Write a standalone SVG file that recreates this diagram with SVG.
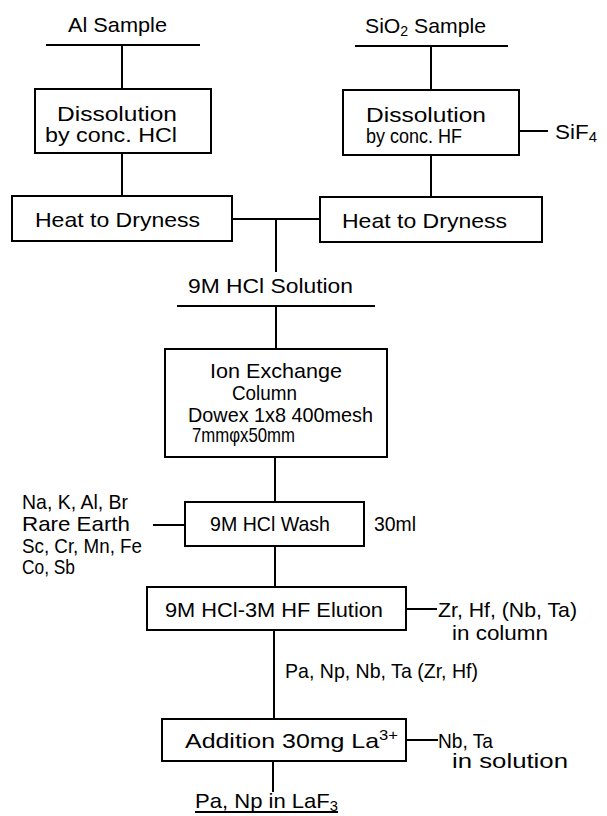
<svg xmlns="http://www.w3.org/2000/svg" width="607" height="816" viewBox="0 0 607 816">
<style>
text{font-family:"Liberation Sans","DejaVu Sans",sans-serif;font-size:21px;fill:#000}
.b{fill:#fff;stroke:#000;stroke-width:2}
.c line,.c path{stroke:#000;stroke-width:2;fill:none}
.s{font-size:14px}
</style>
<rect width="607" height="816" fill="#fff"/>
<g class="c" id="connectors">
<line x1="46" y1="45" x2="200" y2="45"/>
<line x1="122" y1="45" x2="122" y2="89"/>
<line x1="122" y1="153" x2="122" y2="196"/>
<line x1="355" y1="46" x2="508" y2="46"/>
<line x1="431" y1="46" x2="431" y2="90"/>
<line x1="431" y1="155" x2="431" y2="197"/>
<line x1="519" y1="131" x2="548" y2="131"/>
<line x1="232" y1="219" x2="320" y2="219"/>
<line x1="276" y1="219" x2="276" y2="272"/>
<line x1="177" y1="306" x2="375" y2="306"/>
<line x1="276" y1="306" x2="276" y2="349"/>
<line x1="275" y1="457" x2="275" y2="502"/>
<line x1="153" y1="525" x2="185" y2="525"/>
<line x1="275" y1="546" x2="275" y2="587"/>
<line x1="406" y1="609" x2="437" y2="609"/>
<line x1="274" y1="630" x2="274" y2="719"/>
<line x1="406" y1="740" x2="438" y2="740"/>
<line x1="273" y1="761" x2="273" y2="792"/>
<line x1="195" y1="812" x2="338" y2="812"/>
</g>
<g id="al-sample"><text x="68" y="32" textLength="99" lengthAdjust="spacingAndGlyphs">Al Sample</text></g>
<g id="sio2-sample"><text x="365" y="33" textLength="121" lengthAdjust="spacingAndGlyphs">SiO<tspan class="s" dy="3">2</tspan><tspan dy="-3"> Sample</tspan></text></g>
<g id="dissolution-hcl">
<rect class="b" x="35" y="89" width="176" height="64"/>
<text x="57" y="121" textLength="120" lengthAdjust="spacingAndGlyphs">Dissolution</text>
<text x="45" y="142" textLength="132" lengthAdjust="spacingAndGlyphs">by conc. HCl</text>
</g>
<g id="dissolution-hf">
<rect class="b" x="343" y="90" width="176" height="65"/>
<text x="366" y="122" textLength="120" lengthAdjust="spacingAndGlyphs">Dissolution</text>
<text x="366" y="143" textLength="96" lengthAdjust="spacingAndGlyphs">by conc. HF</text>
</g>
<g id="sif4"><text x="555" y="139" textLength="42" lengthAdjust="spacingAndGlyphs">SiF<tspan class="s" dy="3">4</tspan></text></g>
<g id="heat-left">
<rect class="b" x="12" y="196" width="220" height="45"/>
<text x="35" y="227" textLength="165" lengthAdjust="spacingAndGlyphs">Heat to Dryness</text>
</g>
<g id="heat-right">
<rect class="b" x="320" y="197" width="222" height="45"/>
<text x="342" y="228" textLength="165" lengthAdjust="spacingAndGlyphs">Heat to Dryness</text>
</g>
<g id="solution"><text x="188" y="293" textLength="165" lengthAdjust="spacingAndGlyphs">9M HCl Solution</text></g>
<g id="ion-exchange">
<rect class="b" x="165" y="349" width="222" height="108"/>
<text x="210" y="378" textLength="132" lengthAdjust="spacingAndGlyphs">Ion Exchange</text>
<text x="232" y="400" textLength="65" lengthAdjust="spacingAndGlyphs">Column</text>
<text x="188" y="422" textLength="185" lengthAdjust="spacingAndGlyphs">Dowex 1x8 400mesh</text>
<text x="192" y="442" textLength="103" lengthAdjust="spacingAndGlyphs">7mmφx50mm</text>
</g>
<g id="eluted-wash">
<text x="22" y="509" textLength="106" lengthAdjust="spacingAndGlyphs">Na, K, Al, Br</text>
<text x="22" y="531" textLength="108" lengthAdjust="spacingAndGlyphs">Rare Earth</text>
<text x="22" y="553" textLength="120" lengthAdjust="spacingAndGlyphs">Sc, Cr, Mn, Fe</text>
<text x="22" y="574" textLength="53" lengthAdjust="spacingAndGlyphs">Co, Sb</text>
</g>
<g id="wash">
<rect class="b" x="185" y="502" width="179" height="44"/>
<text x="210" y="531" textLength="120" lengthAdjust="spacingAndGlyphs">9M HCl Wash</text>
</g>
<g id="volume"><text x="374" y="531" textLength="42" lengthAdjust="spacingAndGlyphs">30ml</text></g>
<g id="elution">
<rect class="b" x="147" y="587" width="259" height="43"/>
<text x="165" y="617" textLength="218" lengthAdjust="spacingAndGlyphs">9M HCl-3M HF Elution</text>
</g>
<g id="in-column">
<text x="438" y="617" textLength="139" lengthAdjust="spacingAndGlyphs">Zr, Hf, (Nb, Ta)</text>
<text x="452" y="640" textLength="96" lengthAdjust="spacingAndGlyphs">in column</text>
</g>
<g id="eluate"><text x="285" y="678" textLength="193" lengthAdjust="spacingAndGlyphs">Pa, Np, Nb, Ta (Zr, Hf)</text></g>
<g id="addition">
<rect class="b" x="162" y="719" width="244" height="42"/>
<text x="185" y="748" textLength="213" lengthAdjust="spacingAndGlyphs">Addition 30mg La<tspan class="s" dy="-8">3+</tspan></text>
</g>
<g id="in-solution">
<text x="438" y="748" textLength="55" lengthAdjust="spacingAndGlyphs">Nb, Ta</text>
<text x="452" y="768" textLength="116" lengthAdjust="spacingAndGlyphs">in solution</text>
</g>
<g id="product"><text x="195" y="808" textLength="143" lengthAdjust="spacingAndGlyphs">Pa, Np in LaF<tspan class="s" dy="3">3</tspan></text></g>
</svg>
